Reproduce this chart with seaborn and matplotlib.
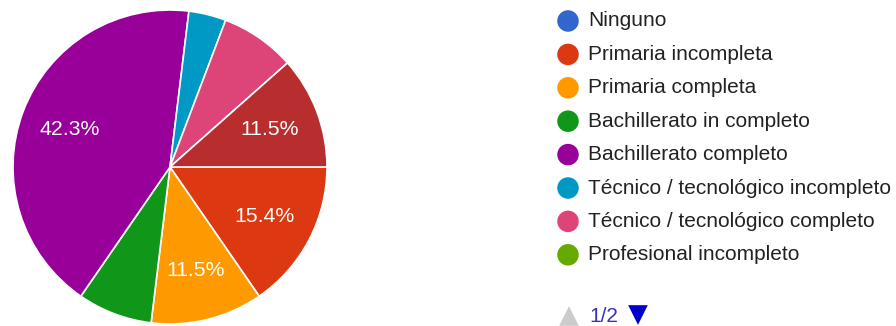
import matplotlib
matplotlib.use("Agg")
import matplotlib.pyplot as plt
import seaborn as sns

# Education level counts (26 responses), legend page 1 of 2
categories = ["Ninguno", "Primaria incompleta", "Primaria completa",
              "Bachillerato in completo", "Bachillerato completo",
              "Técnico / tecnológico incompleto", "Técnico / tecnológico completo",
              "Profesional incompleto", "Profesional completo"]
counts = [0, 4, 3, 2, 11, 1, 2, 0, 3]
colors_hex = ["#3366cc", "#dc3912", "#ff9900", "#109618", "#990099",
              "#0099c6", "#dd4477", "#66aa00", "#b82e2e"]
legend_shown = 8  # only first page of the legend is visible

sns.set_theme(style="white")
plt.rcParams['font.family'] = ['Liberation Sans', 'DejaVu Sans']
palette = sns.color_palette(colors_hex)

W, H = 896, 326
fig = plt.figure(figsize=(W / 100, H / 100), dpi=100)

# pie
cx, cy, r = 170, 167, 157
ax = fig.add_axes([(cx - r) / W, (H - cy - r) / H, 2 * r / W, 2 * r / H])
vals = [c for c in counts if c > 0]
cols = [palette[i] for i, c in enumerate(counts) if c > 0]
ax.pie(vals, colors=cols, startangle=0, counterclock=False,
       autopct=lambda p: f"{p:.1f}%" if p > 10 else "", pctdistance=0.68,
       wedgeprops=dict(edgecolor="white", linewidth=1.2),
       textprops=dict(color="white", fontsize=15.3))
ax.set_xlim(-1, 1)
ax.set_ylim(-1, 1)
ax.set_aspect("equal")

# legend drawn in pixel coordinates
lx = fig.add_axes([520 / W, 0, (W - 520) / W, 1])
lx.set_xlim(520, W)
lx.set_ylim(H, 0)
lx.axis("off")
row0, step = 21, 33.4
for i in range(legend_shown):
    y = row0 + i * step
    lx.scatter([568], [y], s=240, color=palette[i], edgecolor="none")
    lx.text(588, y, categories[i], va="center", ha="left", fontsize=15, color="#222222")

# pagination
lx.scatter([569], [316], marker="^", s=200, color="#cccccc", edgecolor="none")
lx.text(589, 316, "1/2", va="center", ha="left", fontsize=15, color="#3333cc")
lx.scatter([638], [315], marker="v", s=200, color="#0000cc", edgecolor="none")

fig.savefig("out.png", dpi=100)
